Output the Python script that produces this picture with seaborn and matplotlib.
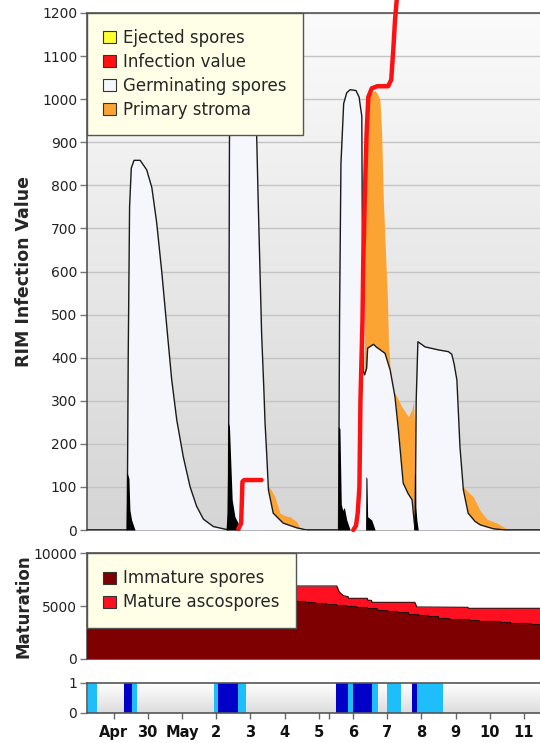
import numpy as np
import matplotlib
matplotlib.use("Agg")
import matplotlib.pyplot as plt
from matplotlib.colors import LinearSegmentedColormap
from matplotlib.patches import Patch
import seaborn as sns

# --- CONFIG ---
sns.set_theme(style="white")
plt.rcParams['font.family'] = ['DejaVu Sans']

# x axis: days counted from Apr 29
day_ticks = list(range(13))
day_labels = ["Apr", "30", "May", "2", "3", "4", "5", "6", "7", "8", "9", "10", "11"]
extra_tick = [6.3]

# --- top panel data ---
germ_x = [-0.78, 0.40, 0.43, 0.47, 0.52, 0.60, 0.78, 0.97, 1.12, 1.26, 1.41, 1.56, 1.70, 1.85, 2.04, 2.24, 2.43, 2.63, 2.92, 3.26, 3.36,
          3.39, 3.44, 4.11, 4.19, 4.23, 4.33, 4.40, 4.43, 4.48, 4.53, 4.67, 4.96, 5.36, 5.65,
          6.58, 6.61, 6.65, 6.73, 6.82, 6.92, 7.09, 7.18, 7.26, 7.28, 7.30, 7.34, 7.40, 7.43, 7.60, 7.68, 7.94, 8.09, 8.23, 8.33, 8.47, 8.61, 8.73, 8.79, 8.82,
          8.85, 8.90, 9.11, 9.50, 9.79, 9.89, 9.96, 10.04, 10.13, 10.23, 10.37, 10.57, 10.72, 11.10, 11.45, 12.6]
germ_y = [0, 0, 400, 750, 840, 858, 858, 836, 795, 715, 600, 470, 350, 255, 170, 100, 55, 25, 8, 2, 0,
          900, 1150, 1150, 900, 765, 457, 318, 250, 175, 93, 39, 16, 5, 0,
          0, 500, 850, 990, 1015, 1022, 1020, 1005, 960, 600, 370, 360, 375, 422, 431, 425, 410, 371, 309, 232, 109, 85, 70, 20, 0,
          300, 437, 425, 418, 414, 408, 385, 348, 193, 93, 39, 20, 12, 3, 0, 0]

stroma_x = [-0.78, 4.43, 4.53, 4.58, 4.72, 4.87, 5.02, 5.16, 5.36, 5.45, 5.51,
            7.30, 7.36, 7.41, 7.45, 7.53, 7.65, 7.73, 7.79, 7.84, 7.89, 7.97, 8.01, 8.04, 8.09, 8.20, 8.28, 8.43, 8.62, 8.72, 8.77, 8.80, 8.81,
            10.13, 10.23, 10.37, 10.52, 10.72, 10.92, 11.21, 11.45, 11.54, 12.6]
stroma_y = [0, 0, 100, 97, 77, 39, 33, 31, 19, 5, 0,
            0, 800, 960, 1010, 1015, 1020, 1010, 998, 921, 766, 611, 534, 433, 375, 320, 310, 286, 263, 278, 298, 250, 0,
            0, 100, 88, 77, 45, 25, 16, 5, 0, 0]

spike_x = [-0.78, 0.37, 0.39, 0.45, 0.48, 0.53, 0.63,
           3.29, 3.32, 3.35, 3.39, 3.43, 3.47, 3.55, 3.65, 3.70,
           6.56, 6.57, 6.62, 6.66, 6.70, 6.75, 6.82, 6.92,
           7.37, 7.38, 7.41, 7.43, 7.55, 7.65,
           8.79, 8.80, 8.83, 8.84, 8.87, 8.91, 12.6]
spike_y = [0, 0, 135, 120, 46, 23, 0,
           0, 40, 251, 240, 155, 70, 31, 15, 0,
           0, 240, 235, 60, 46, 52, 23, 0,
           0, 124, 120, 31, 23, 0,
           0, 132, 128, 54, 23, 0, 0]

infect1_x = [3.65, 3.73, 3.75, 3.77, 3.82, 4.33]
infect1_y = [3, 15, 60, 112, 116, 116]
infect2_x = [7.01, 7.09, 7.14, 7.19, 7.22, 7.28, 7.30, 7.35, 7.40, 7.45, 7.55, 7.71, 8.03, 8.12, 8.18, 8.23, 8.28, 8.33]
infect2_y = [0, 10, 39, 100, 300, 487, 611, 780, 921, 1005, 1025, 1030, 1030, 1045, 1114, 1183, 1230, 1290]

top_labels = ["Ejected spores", "Infection value", "Germinating spores", "Primary stroma"]
top_colors = ["#ffff33", "#ff1111", "#f6f7fd", "#fba433"]

# --- maturation panel data ---
total_x = [-0.78, 6.53, 6.60, 6.72, 6.86, 6.87, 7.42, 7.44, 7.54, 7.56, 8.81, 8.87, 10.36, 10.38, 12.6]
total_y = [6906, 6906, 6350, 5990, 5896, 5740, 5740, 5550, 5550, 5360, 5360, 4920, 4890, 4795, 4795]
immature_x = [-0.78, 5.60, 5.90, 6.20, 6.50, 6.80, 7.10, 7.40, 7.70, 8.00, 8.30, 8.60, 8.90, 9.20, 9.50, 9.80,
              10.10, 10.40, 10.70, 11.00, 11.30, 11.60, 11.90, 12.20, 12.6]
immature_y = [5490, 5420, 5330, 5250, 5150, 5050, 4930, 4800, 4680, 4560, 4420, 4280, 4150, 4040, 3880, 3820,
              3780, 3720, 3640, 3560, 3490, 3430, 3360, 3290, 3290]
mid_labels = ["Immature spores", "Mature ascospores"]
mid_colors = ["#7f0000", "#ff1020"]

# --- wetness strip data ---
light_start = [-0.75, 0.53, 2.95, 3.65, 6.85, 7.57, 8.01, 8.87]
light_end = [-0.49, 0.68, 3.06, 3.87, 6.99, 7.74, 8.40, 9.64]
dark_start = [0.32, 3.06, 6.51, 6.99, 8.74]
dark_end = [0.53, 3.65, 6.85, 7.57, 8.87]

XMIN, XMAX = -0.775, 12.47


def gradient_bg(ax, top, bottom):
    cmap = LinearSegmentedColormap.from_list("bg", [bottom, top])
    ax.imshow(np.linspace(0, 1, 256).reshape(-1, 1), cmap=cmap, aspect="auto",
              extent=(0, 1, 0, 1), transform=ax.transAxes, origin="lower", zorder=0)


def style_axes(ax):
    ax.spines['right'].set_visible(False)
    for s in ['left', 'top', 'bottom']:
        ax.spines[s].set_color('#555555')
        ax.spines[s].set_linewidth(1.2)
    ax.tick_params(axis='y', left=True, length=5, width=1, color='#777777', pad=2,
                   labelsize=10, labelcolor='#222222')
    ax.tick_params(axis='x', bottom=False, labelbottom=False)


def box_legend(ax, colors, labels):
    handles = [Patch(facecolor=c, edgecolor='#333333', lw=0.8, label=l) for c, l in zip(colors, labels)]
    leg = ax.legend(handles=handles, loc='upper left', bbox_to_anchor=(0, 1), borderaxespad=0,
                    fontsize=12, frameon=True, fancybox=False, framealpha=1, facecolor='#ffffe8',
                    edgecolor='#555555', handlelength=0.75, handleheight=0.75, handletextpad=0.45,
                    borderpad=0.97, labelspacing=0.36)
    leg.get_frame().set_linewidth(1.0)
    leg.set_zorder(10)
    return leg


fig = plt.figure(figsize=(5.4, 7.43), dpi=100)
ax_top = fig.add_axes([87 / 540, 1 - 530 / 743, 453 / 540, 517 / 743])
ax_mid = fig.add_axes([87 / 540, 1 - 659 / 743, 453 / 540, 105.7 / 743])
ax_bot = fig.add_axes([87 / 540, 1 - 712.5 / 743, 453 / 540, 30 / 743])

# 1. RIM infection panel
gradient_bg(ax_top, '#fbfbfb', '#d5d5d5')
ax_top.set_axisbelow(True)
ax_top.grid(axis='y', color='#c4c4c4', lw=1)
ax_top.fill_between(stroma_x, stroma_y, color=top_colors[3], lw=0, zorder=2)
ax_top.fill_between(germ_x, germ_y, color=top_colors[2], lw=0, zorder=3)
sns.lineplot(x=germ_x, y=germ_y, ax=ax_top, color='#1a1a1a', lw=1.0, sort=False, estimator=None, zorder=4)
ax_top.fill_between(spike_x, spike_y, color='black', lw=0, zorder=5)
for rx, ry in [(infect1_x, infect1_y), (infect2_x, infect2_y)]:
    sns.lineplot(x=rx, y=ry, ax=ax_top, color='#ff1111', lw=3.2, sort=False, estimator=None, zorder=6)
    ax_top.lines[-1].set_clip_on(False)

ax_top.set_xlim(XMIN, XMAX)
ax_top.set_ylim(0, 1200)
ax_top.set_yticks(range(0, 1300, 100))
style_axes(ax_top)
ax_top.set_ylabel("RIM Infection Value", fontsize=12.5, fontweight='bold')
ax_top.yaxis.set_label_coords(-0.12, 0.5)
box_legend(ax_top, top_colors, top_labels)

# 2. Maturation panel
ax_mid.set_facecolor('white')
ax_mid.fill_between(total_x, total_y, color=mid_colors[1], lw=0, zorder=2)
ax_mid.fill_between(immature_x, immature_y, step='post', color=mid_colors[0], lw=0, zorder=3)
sns.lineplot(x=total_x, y=total_y, ax=ax_mid, color='#3a0000', lw=0.8, sort=False, estimator=None, zorder=4)
sns.lineplot(x=immature_x, y=immature_y, ax=ax_mid, color='#2a0000', lw=0.8, sort=False, estimator=None,
             drawstyle='steps-post', zorder=4)
ax_mid.set_xlim(XMIN, XMAX)
ax_mid.set_ylim(0, 10000)
ax_mid.set_yticks([0, 5000, 10000])
style_axes(ax_mid)
ax_mid.set_ylabel("Maturation", fontsize=12, fontweight='bold')
ax_mid.yaxis.set_label_coords(-0.12, 0.5)
box_legend(ax_mid, mid_colors, mid_labels)

# 3. Wetness strip
gradient_bg(ax_bot, '#ffffff', '#dcdcdc')
ax_bot.bar(light_start, 1, width=np.subtract(light_end, light_start), align='edge',
           color='#1ebefa', lw=0, zorder=2)
ax_bot.bar(dark_start, 1, width=np.subtract(dark_end, dark_start), align='edge',
           color='#0000c8', lw=0, zorder=2)
ax_bot.set_xlim(XMIN, XMAX)
ax_bot.set_ylim(0, 1)
ax_bot.set_yticks([0, 1])
style_axes(ax_bot)
ax_bot.set_xticks(day_ticks)
ax_bot.set_xticklabels(day_labels, fontsize=10.5, fontweight='bold', color='#111111')
ax_bot.set_xticks(extra_tick, minor=True)
ax_bot.tick_params(axis='x', which='both', bottom=True, labelbottom=True, length=4, width=1,
                   color='#666666', pad=5)

fig.savefig("out.png", dpi=100)
